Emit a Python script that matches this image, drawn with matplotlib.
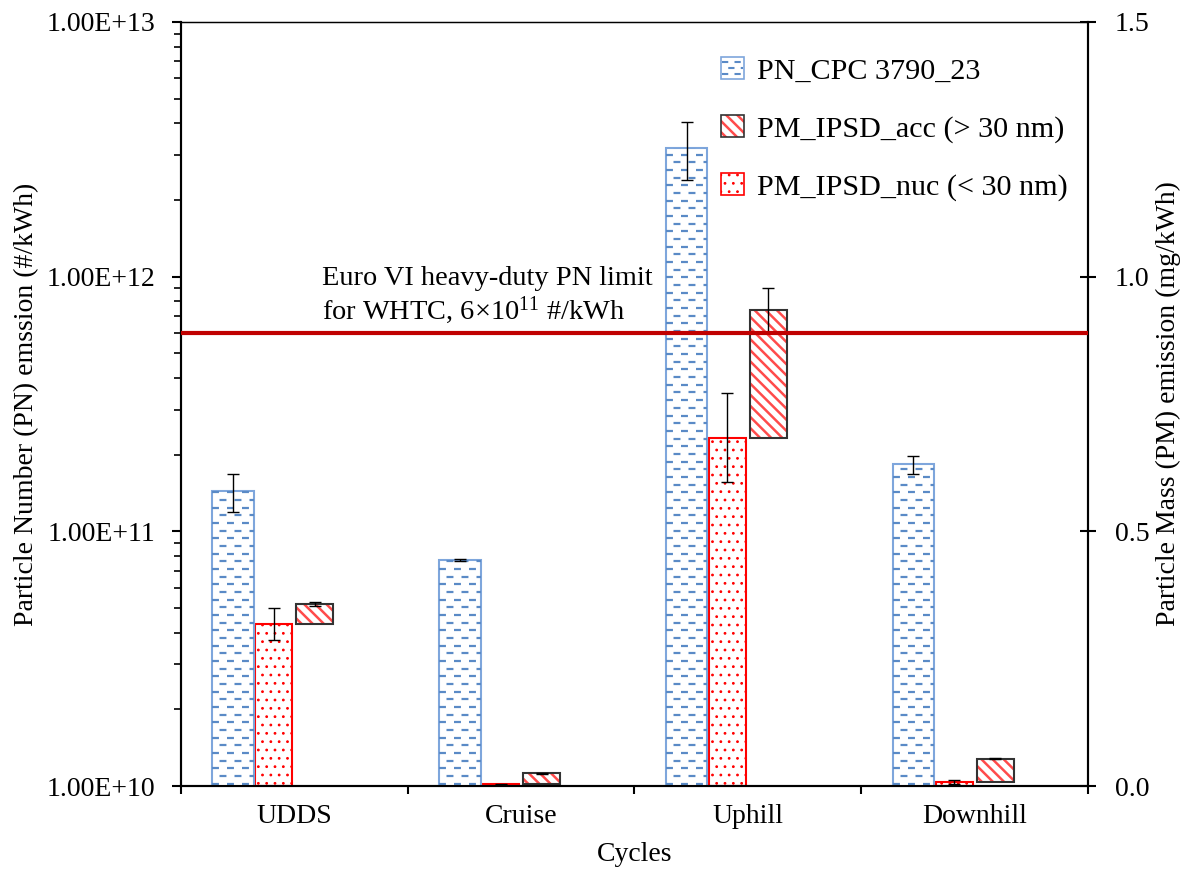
import numpy as np
import matplotlib
matplotlib.use("Agg")
import matplotlib.pyplot as plt
from matplotlib.patches import Patch, Rectangle
from matplotlib.lines import Line2D
from matplotlib.collections import LineCollection
from matplotlib.legend_handler import HandlerBase, HandlerTuple
from matplotlib.transforms import blended_transform_factory
from matplotlib.ticker import FixedLocator, FuncFormatter, LogLocator, NullFormatter

plt.rcParams.update({
    "font.family": "Liberation Serif",
    "font.size": 20,
    "mathtext.fontset": "custom",
    "mathtext.rm": "Liberation Serif",
    "mathtext.it": "Liberation Serif:italic",
    "lines.scale_dashes": False,
    "hatch.linewidth": 1.2,
})

# ── data ──────────────────────────────────────────────────────────────────────
categories = ["UDDS", "Cruise", "Uphill", "Downhill"]
pn_cpc = [1.44e11, 7.72e10, 3.21e12, 1.83e11]          # #/kWh
pn_cpc_err = [2.45e10, 1.0e9, 8.2e11, 1.45e10]
pm_nuc = [0.318, 0.0033, 0.684, 0.0085]                 # mg/kWh
pm_nuc_err = [0.032, 0.001, 0.087, 0.004]
pm_acc = [0.039, 0.022, 0.251, 0.045]                   # stacked on nuc
pm_acc_err = [0.0045, 0.001, 0.043, 0.001]
pn_limit = 6e11

PN_EDGE = "#7EA6DC"
PN_DASH = "#5A8AC6"
NUC_RED = "#FF0000"
ACC_RED = "#FF4B4B"
LIMIT_RED = "#C00000"
NUC_HATCH = ".."
ACC_HATCH = "\\\\\\"


class PNHandle(Patch):
    pass


class DashedBoxHandler(HandlerBase):
    """Legend box with the staggered dash fill used for the PN bars."""
    def create_artists(self, legend, orig_handle, xdescent, ydescent,
                       width, height, fontsize, trans):
        x0, y0 = -xdescent, -ydescent
        arts = [Rectangle((x0, y0), width, height, facecolor="white",
                          edgecolor=PN_EDGE, lw=1.2, transform=trans)]
        for frac, off in [(0.22, 0.0), (0.5, 4.5), (0.78, 0.0)]:
            arts.append(Line2D([x0 + 1, x0 + width - 1], [y0 + frac * height] * 2,
                               color=PN_DASH, lw=1.5,
                               linestyle=(off, (4.5, 4.5)), transform=trans))
        return arts


def set_hatch_lw(patches, lw):
    for p in patches:
        if hasattr(p, "set_hatch_linewidth"):
            p.set_hatch_linewidth(lw)


fig = plt.figure(figsize=(11.93, 8.75), dpi=100)
ax1 = fig.add_axes([0.1517, 0.1017, 0.7603, 0.8732])
ax2 = ax1.twinx()
ax1.set_zorder(ax2.get_zorder() + 1)
ax1.patch.set_visible(False)

x = np.arange(len(categories))

# PN bars (log axis) with dashed fill
pn_bars = ax1.bar(x - 0.27, pn_cpc, width=0.182, color="white",
                  edgecolor=PN_EDGE, linewidth=1.5, zorder=2)
ytrans = blended_transform_factory(ax1.transData, ax1.transAxes)
rows = np.arange(0.003, 1.0, 0.01004)
for bar in pn_bars:
    x0, x1 = bar.get_x(), bar.get_x() + bar.get_width()
    for k, off in enumerate([0.0, 5.4]):
        segs = [[(x0, r), (x1, r)] for r in rows[k::2]]
        lc = LineCollection(segs, transform=ytrans, colors=PN_DASH,
                            linewidths=1.6, linestyles=[(off, (5.0, 5.8))],
                            zorder=2.5)
        ax1.add_collection(lc, autolim=False)
        lc.set_clip_path(bar)
ax1.errorbar(x - 0.27, pn_cpc, yerr=pn_cpc_err, fmt="none", ecolor="black",
             elinewidth=1, capsize=4, capthick=1, zorder=3)

# PM bars (linear axis)
nuc_bars = ax2.bar(x - 0.09, pm_nuc, width=0.163, color="white",
                   edgecolor=NUC_RED, linewidth=1.5, hatch=NUC_HATCH, zorder=2)
set_hatch_lw(nuc_bars, 0.8)
acc_fill = ax2.bar(x + 0.09, pm_acc, bottom=pm_nuc, width=0.163, color="white",
                   edgecolor=ACC_RED, linewidth=0, hatch=ACC_HATCH, zorder=2)
set_hatch_lw(acc_fill, 1.8)
ax2.bar(x + 0.09, pm_acc, bottom=pm_nuc, width=0.163, fill=False,
        edgecolor="#333333", linewidth=1.5, zorder=2.2)
ax2.errorbar(x - 0.09, pm_nuc, yerr=pm_nuc_err, fmt="none", ecolor="black",
             elinewidth=1, capsize=4, capthick=1, zorder=3)
ax2.errorbar(x + 0.09, np.add(pm_nuc, pm_acc), yerr=pm_acc_err, fmt="none",
             ecolor="black", elinewidth=1, capsize=4, capthick=1, zorder=3)

# Euro VI limit
ax1.axhline(pn_limit, color=LIMIT_RED, lw=3, zorder=4)
ax1.text(0.122, 6.88e11, "Euro VI heavy-duty PN limit\nfor WHTC, 6×10$^{11}$ #/kWh",
         ha="left", va="baseline", linespacing=1.1, fontsize=20.4, zorder=5)

# axes
ax1.set_xlim(-0.5, 3.5)
ax1.set_yscale("log")
ax1.set_ylim(1e10, 1e13)
ax2.set_ylim(0, 1.5)

ax1.set_xticks(x, categories)
ax1.set_xticks([-0.5, 0.5, 1.5, 2.5, 3.5], minor=True)
ax1.tick_params(axis="x", which="major", length=0, pad=13)
ax1.tick_params(axis="x", which="minor", direction="out", length=6, width=1.5)

ax1.yaxis.set_major_locator(FixedLocator([1e10, 1e11, 1e12, 1e13]))
ax1.yaxis.set_major_formatter(FuncFormatter(lambda v, p: f"{v:.2E}"))
ax1.yaxis.set_minor_locator(LogLocator(base=10, subs=np.arange(2, 10)))
ax1.yaxis.set_minor_formatter(NullFormatter())
ax1.tick_params(axis="y", which="major", direction="out", length=6.5,
                width=1.5, pad=12)
ax1.tick_params(axis="y", which="minor", direction="out", length=5, width=1.2)

ax2.set_yticks([0.0, 0.5, 1.0, 1.5])
ax2.yaxis.set_major_formatter(FuncFormatter(lambda v, p: f"{v:.1f}"))
ax2.tick_params(axis="y", direction="inout", length=11.5, width=1.5, pad=13.7)

for ax in (ax1, ax2):
    for side in ("left", "right", "bottom"):
        ax.spines[side].set_linewidth(1.5)
    ax.spines["top"].set_linewidth(0.9)

ax1.set_ylabel("Particle Number (PN) emssion (#/kWh)")
ax1.yaxis.set_label_coords(-0.1566, 0.5)
ax2.set_ylabel("Particle Mass (PM) emission (mg/kWh)")
ax2.yaxis.set_label_coords(1.075, 0.5)
ax1.set_xlabel("Cycles")
ax1.xaxis.set_label_coords(0.5, -0.073)

# legend
pn_handle = PNHandle(facecolor="white", edgecolor=PN_EDGE)
acc_handle = (Patch(facecolor="white", edgecolor=ACC_RED, lw=0, hatch=ACC_HATCH),
              Patch(fill=False, edgecolor="#333333", lw=1.2))
nuc_handle = Patch(facecolor="white", edgecolor=NUC_RED, lw=1.2, hatch=NUC_HATCH)
leg = ax1.legend([pn_handle, acc_handle, nuc_handle],
                 ["PN_CPC 3790_23", "PM_IPSD_acc (> 30 nm)", "PM_IPSD_nuc (< 30 nm)"],
                 handler_map={tuple: HandlerTuple(ndivide=1),
                              PNHandle: DashedBoxHandler()},
                 loc="upper left", bbox_to_anchor=(721 / 1193, 1 - 57 / 875),
                 bbox_transform=fig.transFigure, frameon=False, borderpad=0,
                 borderaxespad=0, fontsize=21.7, handlelength=0.76,
                 handleheight=0.76, handletextpad=0.43, labelspacing=1.0)
for p in leg.get_patches():
    if p.get_hatch() == NUC_HATCH:
        set_hatch_lw([p], 0.8)
    elif p.get_hatch() == ACC_HATCH:
        set_hatch_lw([p], 1.8)

fig.savefig("out.png", dpi=100)
